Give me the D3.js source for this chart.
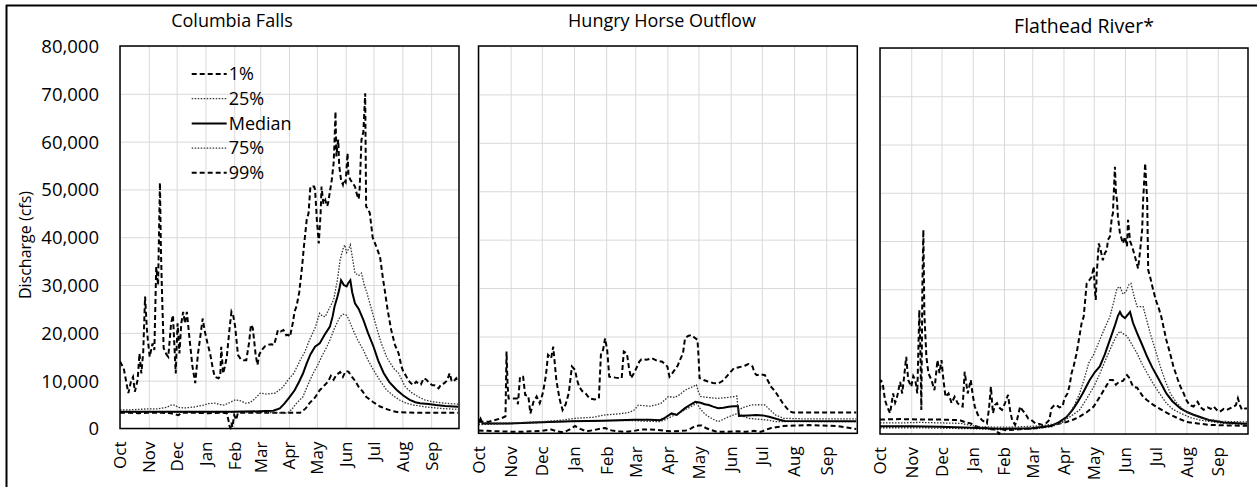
<!DOCTYPE html>
<meta charset="utf-8">
<style>
body { margin: 0; background: #fff; }
text { font-family: "Open Sans", "DejaVu Sans", sans-serif; fill: #000; }
.grid line { stroke: #d9d9d9; stroke-width: 1px; }
.grid .domain { display: none; }
.frame { fill: none; stroke: #000; stroke-width: 1.5px; }
.dash { fill: none; stroke: #000; stroke-width: 2px; stroke-dasharray: 5,3; }
.dot { fill: none; stroke: #333; stroke-width: 1.3px; stroke-dasharray: 1.5,1.5; }
.solid { fill: none; stroke: #000; stroke-width: 2px; }
</style>
<body>
<script src="https://cdn.jsdelivr.net/npm/d3@7"></script>
<script>
var width = 1257,
    height = 487;

var months = ["Oct", "Nov", "Dec", "Jan", "Feb", "Mar", "Apr", "May", "Jun", "Jul", "Aug", "Sep"];
var yTicks = [0, 10000, 20000, 30000, 40000, 50000, 60000, 70000, 80000];
var titles = ["Columbia Falls", "Hungry Horse Outflow", "Flathead River*"];
var legendLabels = ["1%", "25%", "Median", "75%", "99%"];

// [day since Oct 1, cfs]
var cf99 = [[0,14000],[4,12600],[9,7400],[12,10000],[14,10800],[16,7700],[19,10200],[21,15700],[23,11500],[25,16000],[27,27600],[29,20600],[30,18500],[32,15000],[35,17800],[37,16400],[39,33800],[41,30000],[43,51400],[44,38000],[45,30000],[47,16800],[50,15500],[52,15000],[55,22000],[57,23700],[60,11500],[62,22000],[64,15700],[66,22000],[68,24400],[70,22000],[72,24400],[75,18500],[78,13000],[81,9500],[84,15700],[87,20000],[89,23000],[91,20600],[94,18000],[97,15700],[100,12500],[102,10800],[106,10500],[108,11000],[109,17100],[111,11500],[113,13000],[115,15000],[118,21000],[120,24400],[122,23500],[124,21300],[127,15400],[130,14500],[133,14300],[136,14300],[139,18000],[141,21700],[143,21000],[146,15500],[148,13300],[150,15500],[153,16500],[156,17200],[160,17500],[163,17600],[166,17500],[168,19000],[170,20600],[173,20300],[176,20600],[179,19500],[181,19600],[183,19200],[186,22000],[188,24500],[190,25500],[193,28500],[196,33800],[198,38000],[201,43600],[203,45000],[205,50600],[209,50600],[210,50000],[212,43600],[214,38700],[216,45000],[217,50600],[219,47000],[221,47800],[223,46500],[224,47100],[226,49500],[228,52000],[230,55500],[231,60000],[232,66300],[233,56900],[234,59000],[235,60400],[236,55000],[238,52000],[240,51000],[241,52000],[243,51500],[245,57600],[246,53000],[248,52000],[250,51500],[253,50600],[255,49000],[257,48000],[258,50000],[260,60400],[262,62000],[264,70100],[265,46400],[267,46000],[269,45000],[272,40000],[276,38000],[280,35900],[283,31500],[285,29000],[288,25000],[292,20600],[296,17500],[300,15700],[303,13000],[305,11900],[308,11000],[310,10200],[313,9500],[316,9100],[319,9800],[321,9450],[324,9200],[327,10500],[330,10200],[333,9500],[336,9100],[339,9000],[343,8400],[346,9300],[349,9450],[352,10000],[355,11550],[357,10000],[359,9800],[362,10500],[364,9800]];
var cf75 = [[0,3900],[10,3900],[20,4000],[30,4100],[40,4100],[50,4400],[55,4900],[59,4900],[63,4400],[70,4300],[80,4500],[90,4900],[95,5200],[102,5300],[108,5000],[112,4900],[118,5400],[124,6000],[130,5800],[135,5300],[140,5400],[145,6200],[151,7400],[158,7200],[167,7400],[171,8000],[174,8400],[178,9300],[181,10200],[187,11500],[194,14300],[199,16000],[204,18500],[210,21000],[215,24100],[218,23500],[221,23400],[225,25000],[230,26900],[234,31000],[237,35200],[240,37500],[242,38400],[244,36800],[246,37500],[248,38400],[250,36000],[253,32500],[257,32000],[260,32500],[263,30000],[266,28300],[270,25500],[276,21300],[281,18000],[287,15000],[290,14000],[295,12500],[300,11550],[307,8750],[314,7500],[321,6650],[328,6000],[336,5600],[345,5400],[355,5200],[364,5100]];
var cfMed = [[0,3500],[30,3500],[60,3500],[90,3500],[120,3500],[150,3600],[165,3700],[172,4200],[177,5200],[183,6650],[188,8000],[192,9450],[197,11500],[201,13600],[205,15500],[210,17100],[215,17800],[220,19500],[226,21300],[229,23500],[231,25500],[234,27500],[236,29000],[238,31000],[241,30000],[244,29700],[246,30500],[248,31000],[250,28500],[253,26200],[257,25000],[262,22700],[267,20000],[273,17100],[278,14200],[284,11550],[290,9700],[298,8050],[305,6900],[312,6000],[318,5500],[323,5300],[332,5100],[340,4900],[350,4700],[364,4560]];
var cf25 = [[0,3400],[30,3450],[60,3400],[90,3400],[120,3450],[150,3400],[170,3300],[180,3200],[185,4000],[190,5270],[197,6650],[202,9000],[208,11550],[213,13300],[217,15000],[222,16800],[226,18500],[231,21000],[237,23400],[240,23900],[244,23700],[247,22500],[251,20600],[256,18500],[262,16400],[267,14300],[273,12200],[280,10000],[287,8050],[294,6900],[301,5960],[308,5300],[316,4900],[330,4500],[345,4200],[364,4000]];
var cf1 = [[0,3300],[10,3300],[20,3200],[30,3300],[45,3300],[55,3200],[63,2800],[66,3300],[80,3300],[95,3200],[110,3300],[115,3200],[117,1500],[118,500],[119,100],[120,1200],[121,300],[123,2800],[125,1800],[127,3300],[140,3300],[160,3300],[180,3300],[194,3300],[200,4200],[204,5300],[210,6500],[215,8000],[220,9000],[224,9800],[227,11000],[230,10200],[233,11200],[237,11800],[240,10800],[243,12000],[246,11900],[249,11000],[253,10000],[257,8700],[261,7800],[265,6650],[272,5600],[280,4600],[288,4000],[294,3600],[300,3400],[320,3300],[364,3300]];

var hh99 = [[0,2400],[10,2400],[22,3100],[26,3500],[27,16900],[28,10000],[29,7200],[33,7200],[37,7200],[38,6000],[40,11700],[43,11700],[45,7900],[48,7700],[50,4100],[53,6500],[56,7600],[59,6200],[62,8300],[65,12000],[67,16200],[70,15500],[72,17900],[75,11000],[78,7200],[81,4800],[84,6000],[87,8300],[90,13800],[93,13100],[95,11000],[97,9600],[100,8700],[103,8300],[107,7200],[112,7000],[116,7200],[118,16500],[120,17200],[122,19600],[124,17200],[126,11700],[132,11500],[138,11400],[140,16900],[143,16500],[145,13500],[147,11400],[150,12500],[152,13400],[155,14800],[157,15300],[162,15200],[167,15500],[172,15000],[177,14800],[180,14200],[182,13800],[184,11700],[187,12500],[189,13100],[192,14000],[194,15100],[197,16500],[199,19600],[202,20100],[205,20300],[208,19800],[211,19300],[212,16000],[213,11400],[217,11000],[221,10700],[226,10400],[231,10300],[235,10800],[239,11700],[243,12700],[246,13400],[250,13600],[254,13800],[257,14000],[260,14300],[264,13800],[266,12500],[268,12000],[272,12200],[276,12000],[279,10800],[282,9600],[286,8600],[289,7600],[293,6300],[297,5200],[300,4500],[303,4300],[364,4300]];
var hh75 = [[0,2200],[20,2100],[40,2200],[60,2400],[80,2700],[93,3100],[110,3300],[122,3800],[135,4000],[145,4300],[150,4800],[154,5800],[160,5700],[165,5600],[170,5800],[176,6200],[180,7000],[183,7600],[189,7400],[194,8000],[199,8900],[205,9500],[210,10000],[212,8500],[214,7600],[221,7400],[230,7200],[240,7400],[247,7600],[249,7700],[250,4800],[256,5400],[263,5850],[270,5900],[276,5850],[281,4800],[286,3800],[294,3100],[310,3000],[364,3000]];
var hhMed = [[0,2100],[2,3000],[4,2000],[30,2000],[60,2300],[90,2500],[120,2600],[150,2800],[165,2800],[175,2700],[178,3000],[181,3400],[186,4100],[191,3800],[195,4500],[199,5200],[204,5900],[209,6500],[214,6300],[218,6000],[222,5850],[226,5500],[231,5200],[236,5300],[241,5500],[246,5600],[250,5600],[251,3600],[260,3700],[268,3800],[274,3700],[280,3400],[285,3100],[290,2800],[295,2550],[364,2500]];
var hh25 = [[0,1800],[30,2000],[60,2200],[90,2500],[120,2600],[150,2600],[175,2400],[182,3000],[189,3800],[196,4500],[202,5200],[207,5800],[210,6200],[214,5000],[218,4000],[222,3400],[227,2800],[231,2400],[236,2900],[241,3400],[246,3800],[250,4100],[255,3500],[260,3100],[270,2900],[280,2700],[286,2400],[364,2400]];
var hh1 = [[0,600],[20,400],[40,300],[60,500],[70,800],[76,400],[82,200],[88,800],[93,1500],[98,900],[104,400],[112,700],[118,1000],[122,1100],[128,600],[135,400],[142,300],[150,500],[157,800],[165,800],[172,700],[180,500],[190,400],[200,600],[205,1000],[208,1400],[212,1600],[215,1600],[219,1100],[224,700],[230,300],[240,300],[250,400],[258,300],[265,500],[272,300],[278,800],[282,1100],[288,1300],[294,1500],[305,1600],[318,1700],[330,1600],[345,1500],[355,1200],[364,900]];

var fh99 = [[0,9000],[1,11200],[3,10000],[5,7000],[7,5700],[10,4300],[13,8400],[15,6500],[17,7700],[20,10800],[22,8400],[24,12000],[26,16000],[28,11200],[31,9800],[33,12000],[35,11200],[37,8400],[39,25700],[40,18000],[41,5000],[42,30000],[43,42300],[44,25000],[46,16000],[48,12600],[51,11200],[54,9100],[57,15300],[59,12600],[61,15300],[63,11000],[65,7700],[68,8400],[71,6400],[74,7700],[77,6400],[80,5800],[82,5700],[84,12900],[87,8400],[90,11200],[92,8000],[94,5700],[97,4000],[101,2900],[104,2500],[106,2200],[108,5000],[110,9800],[112,4300],[114,6000],[116,6400],[118,5500],[121,5000],[124,6400],[127,8100],[129,5000],[131,2900],[134,1900],[136,3000],[139,5700],[141,5000],[144,4300],[147,3200],[150,2900],[154,2200],[158,2100],[161,1900],[165,2300],[168,2900],[170,5300],[173,6000],[175,6000],[178,5500],[181,5700],[183,7400],[186,8400],[188,10000],[190,12600],[192,14000],[195,16700],[198,20500],[200,23000],[202,24300],[205,31200],[208,32000],[210,32600],[212,34700],[213,30000],[214,27800],[215,33300],[217,39500],[219,38000],[221,36000],[223,37500],[225,38100],[226,40200],[228,40900],[230,45000],[231,45700],[233,55400],[234,50000],[235,48500],[236,45000],[238,41600],[241,39500],[243,40900],[245,38900],[246,44400],[248,40000],[250,38900],[253,36700],[256,34300],[258,38000],[260,42300],[261,48500],[263,56100],[264,52000],[265,48500],[266,34000],[268,32500],[271,29800],[274,27500],[276,26400],[279,24300],[284,19500],[288,16500],[291,14000],[295,11500],[298,9800],[301,8500],[304,7000],[307,6000],[311,5700],[315,6700],[318,5500],[321,5000],[325,5500],[328,5200],[331,5700],[334,5000],[337,4600],[341,5200],[344,5000],[348,5400],[351,5700],[353,6000],[355,7400],[357,6000],[359,5000],[362,5300],[364,5300]];
var fh75 = [[0,2300],[20,2300],[40,2400],[60,2300],[80,2200],[90,1800],[100,1500],[120,1400],[140,1500],[160,1700],[170,2000],[180,2200],[185,3200],[188,4300],[193,6000],[198,8400],[202,11000],[207,14700],[212,16500],[218,19500],[223,22000],[228,24300],[232,27500],[235,30200],[238,30500],[241,29000],[244,29500],[247,31000],[249,31200],[252,28500],[255,26400],[261,26400],[264,24000],[268,20900],[273,17500],[278,14000],[283,11000],[288,8400],[294,6500],[301,5000],[310,4000],[318,3300],[330,2900],[340,2600],[364,2500]];
var fhMed = [[0,1600],[30,1600],[60,1500],[90,1300],[120,1100],[150,1200],[170,1700],[178,2500],[185,3500],[191,5000],[196,6600],[201,8400],[205,10000],[208,11200],[213,12800],[218,14000],[223,16500],[228,19500],[233,22500],[236,24500],[238,25300],[240,24500],[243,24000],[246,24800],[248,25300],[251,23000],[255,20900],[260,18500],[265,16000],[270,13800],[275,11900],[280,10000],[284,8400],[290,6800],[298,5300],[305,4500],[311,4000],[326,2900],[341,2400],[364,2100]];
var fh25 = [[0,1300],[30,1300],[60,1200],[90,1100],[120,900],[150,1000],[170,1500],[178,2200],[188,3500],[198,5000],[205,7300],[212,9800],[217,12000],[221,14000],[226,16500],[231,18800],[235,20500],[238,21300],[241,20800],[245,20300],[250,18500],[255,16700],[260,14500],[265,12600],[270,10800],[275,9100],[284,6400],[290,5200],[298,4300],[308,3400],[317,2900],[330,2500],[341,2200],[364,1900]];
var fh1 = [[0,3000],[20,3100],[40,3000],[60,3000],[75,2900],[80,2800],[85,2400],[90,2200],[95,1600],[100,1200],[105,1300],[110,1000],[115,900],[117,300],[118,0],[119,400],[121,1000],[125,800],[135,900],[145,1100],[155,1200],[165,1500],[175,2000],[185,2500],[192,3000],[198,3600],[205,4500],[212,5700],[218,7700],[222,9100],[228,11200],[231,11200],[234,10200],[237,10800],[241,11000],[245,12200],[247,11700],[251,9800],[255,9600],[261,7700],[265,7000],[270,6200],[275,5500],[281,4800],[288,4000],[295,3300],[304,2500],[315,2200],[326,1900],[340,1800],[364,1700]];

var styles = ["dash", "dot", "solid", "dot", "dash"];

var panels = [
  {left: 120, right: 459, top: 46, bottom: 428.5, tx: 232, ty: 21, size: 18, labels: true, series: [cf1, cf25, cfMed, cf75, cf99]},
  {left: 478.5, right: 857.3, top: 46, bottom: 433.3, tx: 662, ty: 21, size: 18, labels: false, series: [hh1, hh25, hhMed, hh75, hh99]},
  {left: 880, right: 1248, top: 48, bottom: 434, tx: 1084, ty: 26, size: 19.5, labels: false, series: [fh1, fh25, fhMed, fh75, fh99]}
];

var start = new Date(2018, 9, 1),
    end = new Date(2019, 9, 1);
var monthStarts = d3.timeMonth.range(start, end);

var svg = d3.select("body").append("svg")
    .attr("width", width)
    .attr("height", height);

// outer frame (left and top edges visible)
svg.append("line").attr("x1", 6.5).attr("x2", 6.5).attr("y1", 5).attr("y2", height)
    .attr("stroke", "#000").attr("stroke-width", 2);
svg.append("line").attr("x1", 6).attr("x2", width).attr("y1", 5.5).attr("y2", 5.5)
    .attr("stroke", "#000").attr("stroke-width", 2);

panels.forEach(function(p, i) {
  var w = p.right - p.left,
      h = p.bottom - p.top;

  var x = d3.scaleTime().domain([start, end]).range([0, w]);
  var y = d3.scaleLinear().domain([0, 80000]).range([h, 0]);

  var g = svg.append("g").attr("transform", "translate(" + p.left + "," + p.top + ")");

  var clipId = "clip" + i;
  g.append("clipPath").attr("id", clipId)
    .append("rect").attr("width", w).attr("height", h + 1);

  var gy = g.append("g").attr("class", "grid")
      .call(d3.axisLeft(y).tickValues(yTicks).tickSize(-w).tickPadding(21)
        .tickFormat(p.labels ? d3.format(",") : ""));
  gy.selectAll("text").style("font-size", "18.5px").attr("dy", "0.35em");

  var gx = g.append("g").attr("class", "grid")
      .attr("transform", "translate(0," + h + ")")
      .call(d3.axisBottom(x).tickValues(monthStarts).tickSize(-h)
        .tickFormat(function(d, j) { return months[j]; }));
  gx.selectAll("text")
      .style("font-size", "17px")
      .attr("text-anchor", "end")
      .attr("transform", "rotate(-90)")
      .attr("x", -13)
      .attr("y", 0)
      .attr("dy", "0.35em");

  var line = d3.line()
      .x(function(d) { return x(d3.timeDay.offset(start, d[0])); })
      .y(function(d) { return y(d[1]); });

  var lines = g.append("g").attr("clip-path", "url(#" + clipId + ")");
  p.series.forEach(function(s, k) {
    lines.append("path")
        .datum(s)
        .attr("class", styles[k])
        .attr("d", line);
  });

  g.append("rect").attr("class", "frame").attr("width", w).attr("height", h);

  svg.append("text")
      .attr("x", p.tx)
      .attr("y", p.ty)
      .attr("dy", "0.35em")
      .attr("text-anchor", "middle")
      .style("font-size", p.size + "px")
      .text(titles[i]);

  if (p.labels) {
    var lg = g.append("g").attr("transform", "translate(" + (191.7 - p.left) + "," + (74 - p.top) + ")");
    legendLabels.forEach(function(label, k) {
      var row = lg.append("g").attr("transform", "translate(0," + k * 24.7 + ")");
      row.append("line").attr("class", styles[k]).attr("x1", 0).attr("x2", 35);
      row.append("text").attr("x", 37).attr("dy", "0.35em").style("font-size", "18px").text(label);
    });
  }
});

svg.append("text")
    .attr("transform", "translate(25,245)rotate(-90)")
    .attr("text-anchor", "middle")
    .attr("dy", "0.35em")
    .style("font-size", "16px")
    .text("Discharge (cfs)");
</script>
